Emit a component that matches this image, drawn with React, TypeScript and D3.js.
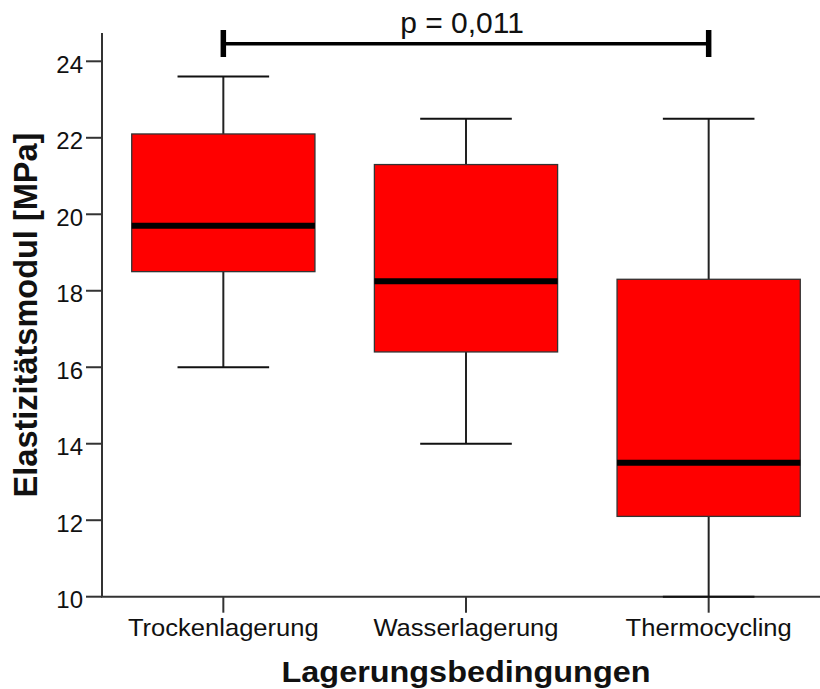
import React, { useEffect, useRef } from "react";
import * as d3 from "d3";

// Boxplot summary per storage condition (Elastizitätsmodul in MPa)
const categories = ["Trockenlagerung", "Wasserlagerung", "Thermocycling"];
const whiskerLow = [16.0, 14.0, 10.0];
const q1 = [18.5, 16.4, 12.1];
const medians = [19.7, 18.25, 13.5];
const q3 = [22.1, 21.3, 18.3];
const whiskerHigh = [23.6, 22.5, 22.5];
const yTicks = [10, 12, 14, 16, 18, 20, 22, 24];
const pLabel = "p = 0,011";
const bracketPair = ["Trockenlagerung", "Thermocycling"];

const W = 820;
const H = 689;

export default function App() {
  const ref = useRef<SVGSVGElement>(null);

  useEffect(() => {
    const svg = d3.select(ref.current);
    svg.selectAll("*").remove();

    const font = "Arial, 'Liberation Sans', Helvetica, sans-serif";
    const x = d3.scalePoint<string>().domain(categories).range([102, 830]).padding(0.5);
    const y = d3.scaleLinear().domain([10, 24.74]).range([596.7, 33]);
    const boxW = x.step() * 0.755;
    const capW = boxW / 2;

    const rows = categories.map((c, i) => ({
      c,
      lo: whiskerLow[i],
      q1: q1[i],
      med: medians[i],
      q3: q3[i],
      hi: whiskerHigh[i],
    }));

    // axes
    const axisColor = "#333";
    svg.append("line").attr("x1", 102).attr("x2", 102).attr("y1", y(24.74)).attr("y2", y(10))
      .attr("stroke", axisColor).attr("stroke-width", 2);
    svg.append("line").attr("x1", 101).attr("x2", W).attr("y1", y(10)).attr("y2", y(10))
      .attr("stroke", axisColor).attr("stroke-width", 2);

    const yt = svg.append("g");
    yTicks.forEach((t) => {
      yt.append("line").attr("x1", 86).attr("x2", 102).attr("y1", y(t)).attr("y2", y(t))
        .attr("stroke", axisColor).attr("stroke-width", 2);
      yt.append("text").attr("x", 83).attr("y", y(t) + 11.5).attr("text-anchor", "end")
        .attr("font-family", font).attr("font-size", 24).attr("fill", "#111").text(String(t));
    });

    const xt = svg.append("g");
    categories.forEach((c) => {
      const cx = x(c)!;
      xt.append("line").attr("x1", cx).attr("x2", cx).attr("y1", y(10)).attr("y2", y(10) + 16)
        .attr("stroke", axisColor).attr("stroke-width", 2);
      xt.append("text")
        .attr("transform", `translate(${cx},636) scale(1.065,1)`)
        .attr("text-anchor", "middle").attr("font-family", font).attr("font-size", 24)
        .attr("fill", "#111").text(c);
    });

    // whiskers, boxes and medians
    const g = svg.append("g");
    rows.forEach((r) => {
      const cx = x(r.c)!;
      g.append("line").attr("x1", cx).attr("x2", cx).attr("y1", y(r.hi)).attr("y2", y(r.q3))
        .attr("stroke", "#222").attr("stroke-width", 2);
      g.append("line").attr("x1", cx).attr("x2", cx).attr("y1", y(r.q1)).attr("y2", y(r.lo))
        .attr("stroke", "#222").attr("stroke-width", 2);
      g.append("line").attr("x1", cx - capW / 2).attr("x2", cx + capW / 2).attr("y1", y(r.hi)).attr("y2", y(r.hi))
        .attr("stroke", "#111").attr("stroke-width", 2);
      g.append("line").attr("x1", cx - capW / 2).attr("x2", cx + capW / 2).attr("y1", y(r.lo)).attr("y2", y(r.lo))
        .attr("stroke", "#111").attr("stroke-width", 2);
      g.append("rect").attr("x", cx - boxW / 2).attr("width", boxW)
        .attr("y", y(r.q3)).attr("height", y(r.q1) - y(r.q3))
        .attr("fill", "#ff0000").attr("stroke", "#333").attr("stroke-width", 1.3);
      g.append("line").attr("x1", cx - boxW / 2).attr("x2", cx + boxW / 2).attr("y1", y(r.med)).attr("y2", y(r.med))
        .attr("stroke", "#000").attr("stroke-width", 6);
    });

    // significance bracket
    const bx1 = x(bracketPair[0])!;
    const bx2 = x(bracketPair[1])!;
    const by = 43.7;
    svg.append("line").attr("x1", bx1).attr("x2", bx2).attr("y1", by).attr("y2", by)
      .attr("stroke", "#000").attr("stroke-width", 3.5);
    [bx1, bx2].forEach((bx) => {
      svg.append("line").attr("x1", bx).attr("x2", bx).attr("y1", 30).attr("y2", 57)
        .attr("stroke", "#000").attr("stroke-width", 5.5);
    });
    svg.append("text").attr("x", (bx1 + bx2) / 2 - 4).attr("y", 33)
      .attr("text-anchor", "middle").attr("font-family", font).attr("font-size", 30)
      .attr("fill", "#111").text(pLabel);

    // axis titles
    svg.append("text")
      .attr("transform", `translate(466,682) scale(1.08,1)`)
      .attr("text-anchor", "middle").attr("font-family", font).attr("font-size", 30)
      .attr("font-weight", "bold").attr("fill", "#111").text("Lagerungsbedingungen");
    svg.append("text")
      .attr("transform", `translate(37,315) rotate(-90)`)
      .attr("text-anchor", "middle").attr("font-family", font).attr("font-size", 32.5)
      .attr("font-weight", "bold").attr("fill", "#111").text("Elastizitätsmodul [MPa]");
  }, []);

  return (
    <svg
      ref={ref}
      width={W}
      height={H}
      style={{ position: "absolute", left: 0, top: 0, background: "#fff" }}
    />
  );
}
